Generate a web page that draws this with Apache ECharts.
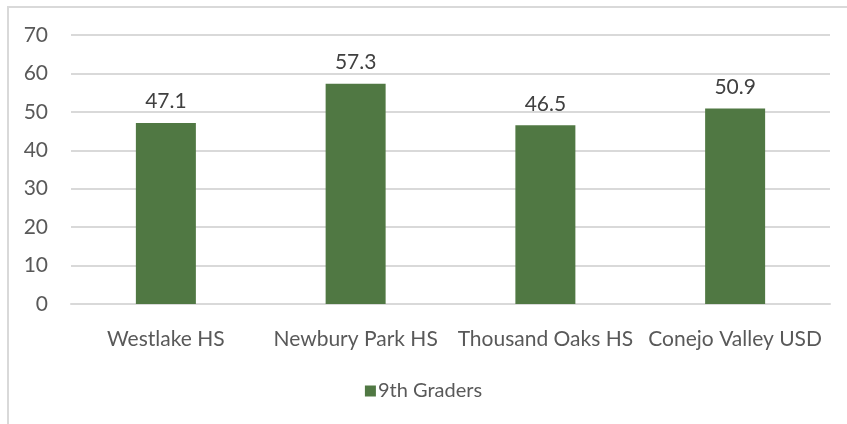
<!DOCTYPE html>
<html><head><meta charset="utf-8">
<script src="https://cdn.jsdelivr.net/npm/echarts@6/dist/echarts.min.js"></script>
<style>
html,body{margin:0;padding:0;background:#fff;overflow:hidden;}
#frame{position:absolute;left:7px;top:6px;width:900px;height:500px;border-left:2px solid #d9d9d9;border-top:2px solid #d9d9d9;}
#c{position:absolute;left:0;top:0;width:847px;height:424px;}
</style></head>
<body>
<div id="frame"></div>
<div id="c"></div>
<script>
const categories = ['Westlake HS', 'Newbury Park HS', 'Thousand Oaks HS', 'Conejo Valley USD'];
const seriesName = '9th Graders';
const values = [47.1, 57.3, 46.5, 50.9];

const chart = echarts.init(document.getElementById('c'));
const font = 'Lato, "Open Sans", sans-serif';
chart.setOption({
  animation: false,
  textStyle: {fontFamily: font},
  grid: {left: 71, right: 17, top: 35, bottom: 120, containLabel: false},
  legend: {
    bottom: 18, left: 'center',
    itemWidth: 11, itemHeight: 11, itemGap: 4,
    icon: 'rect',
    textStyle: {color: '#595959', fontSize: 20, fontFamily: font, padding: [0, 0, 0, -3]},
    data: [seriesName]
  },
  xAxis: {
    type: 'category', data: categories,
    axisLine: {lineStyle: {color: '#d9d9d9', width: 2}},
    axisTick: {show: false},
    axisLabel: {color: '#595959', fontSize: 21, margin: 25, fontFamily: font, interval: 0}
  },
  yAxis: {
    type: 'value', min: 0, max: 70, interval: 10,
    axisLine: {show: false}, axisTick: {show: false},
    splitLine: {lineStyle: {color: '#d9d9d9', width: 2}},
    axisLabel: {color: '#595959', fontSize: 21, margin: 23, fontFamily: font}
  },
  series: [{
    name: seriesName, type: 'bar', data: values, barWidth: 60,
    itemStyle: {color: '#507843'},
    label: {show: true, position: 'top', distance: 11, color: '#404040', fontSize: 21, fontFamily: font}
  }]
});
</script>
</body></html>
